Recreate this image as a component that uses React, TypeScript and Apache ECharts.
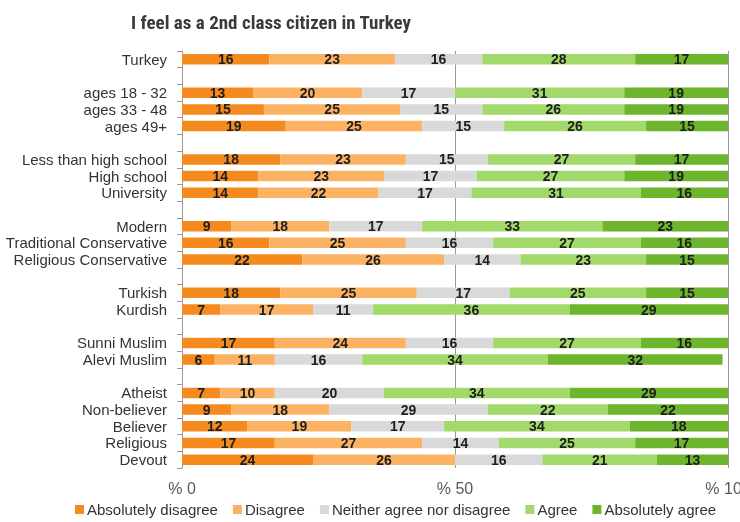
import React, { useEffect, useRef } from "react";
import * as echarts from "echarts";

const categories = [
  "Turkey", " ",
  "ages 18 - 32", "ages 33 - 48", "ages 49+", "  ",
  "Less than high school", "High school", "University", "   ",
  "Modern", "Traditional Conservative", "Religious Conservative", "    ",
  "Turkish", "Kurdish", "     ",
  "Sunni Muslim", "Alevi Muslim", "      ",
  "Atheist", "Non-believer", "Believer", "Religious", "Devout",
];

const absolutelyDisagree = [16, null, 13, 15, 19, null, 18, 14, 14, null, 9, 16, 22, null, 18, 7, null, 17, 6, null, 7, 9, 12, 17, 24];
const disagree = [23, null, 20, 25, 25, null, 23, 23, 22, null, 18, 25, 26, null, 25, 17, null, 24, 11, null, 10, 18, 19, 27, 26];
const neither = [16, null, 17, 15, 15, null, 15, 17, 17, null, 17, 16, 14, null, 17, 11, null, 16, 16, null, 20, 29, 17, 14, 16];
const agree = [28, null, 31, 26, 26, null, 27, 27, 31, null, 33, 27, 23, null, 25, 36, null, 27, 34, null, 34, 22, 34, 25, 21];
const absolutelyAgree = [17, null, 19, 19, 15, null, 17, 19, 16, null, 23, 16, 15, null, 15, 29, null, 16, 32, null, 29, 22, 18, 17, 13];

const seriesNames = ["Absolutely disagree", "Disagree", "Neither agree nor disagree", "Agree", "Absolutely agree"];
const seriesColors = ["#F58B1F", "#FBB263", "#D9D9D9", "#A2D96B", "#6DB52C"];
const xTicks = [0, 50, 100];

export default function App() {
  const ref = useRef<HTMLDivElement>(null);
  useEffect(() => {
    if (!ref.current) return;
    const chart = echarts.init(ref.current, null, { renderer: "svg" });
    const values = [absolutelyDisagree, disagree, neither, agree, absolutelyAgree];
    chart.setOption({
      animation: false,
      title: {
        text: "I feel as a 2nd class citizen in Turkey",
        left: 126,
        top: 8,
        textStyle: {
          fontFamily: "'Liberation Sans Narrow', 'Roboto Condensed', 'Liberation Sans', sans-serif",
          fontWeight: "bold",
          fontSize: 19,
          color: "#3a3a3a",
        },
      },
      legend: {
        bottom: 0,
        left: 70,
        itemWidth: 9,
        itemHeight: 9,
        itemGap: 15,
        icon: "rect",
        textStyle: { fontFamily: "'Liberation Sans', Arial, sans-serif", fontSize: 15, color: "#333", padding: [0, 0, 0, -2] },
        data: seriesNames,
      },
      grid: { left: 182, right: 12, top: 51, bottom: 54, containLabel: false, outerBoundsMode: "none" },
      xAxis: {
        type: "value",
        min: xTicks[0],
        max: xTicks[2],
        interval: 50,
        axisLine: { show: false },
        axisTick: { show: false },
        splitLine: { show: true, lineStyle: { color: "#999", width: 1 } },
        axisLabel: {
          formatter: (v: number) => "% " + v,
          fontFamily: "'Liberation Sans Narrow', 'Liberation Sans', Arial, sans-serif",
          fontSize: 16,
          color: "#595959",
          margin: 12,
        },
      },
      yAxis: {
        type: "category",
        inverse: true,
        data: categories,
        axisLine: { show: true, lineStyle: { color: "#999" } },
        axisTick: { show: true, length: 5, lineStyle: { color: "#999" } },
        axisLabel: {
          interval: 0,
          fontFamily: "'Liberation Sans', Arial, sans-serif",
          fontSize: 15,
          color: "#333",
          margin: 15,
        },
      },
      series: seriesNames.map((name, i) => ({
        name,
        type: "bar",
        stack: "total",
        barWidth: "63%",
        itemStyle: { color: seriesColors[i] },
        label: {
          show: true,
          position: "inside",
          fontFamily: "'Liberation Sans', Arial, sans-serif",
          fontWeight: 900,
          fontSize: 14,
          color: "#1e1e1e",
          formatter: (p: any) => (p.value == null ? "" : String(p.value)),
        },
        data: values[i],
      })),
    });
    return () => chart.dispose();
  }, []);
  return <div ref={ref} style={{ position: "fixed", left: 0, top: 0, width: 740, height: 522 }} />;
}
